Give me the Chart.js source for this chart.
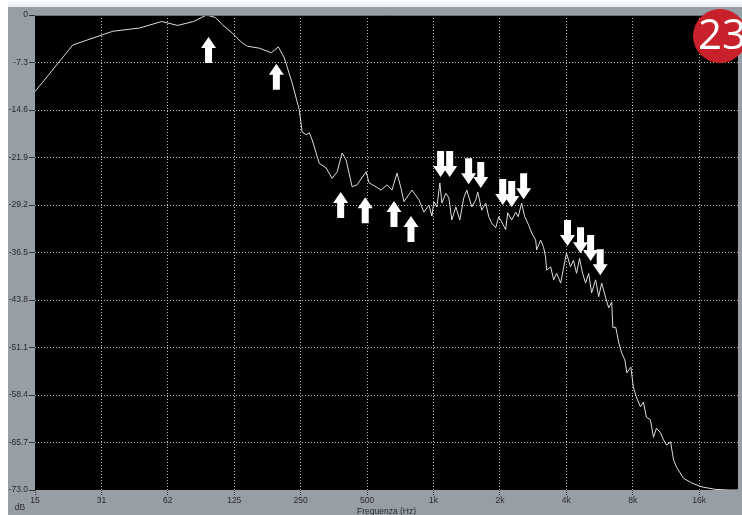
<!DOCTYPE html>
<html>
<head>
<meta charset="utf-8">
<script src="https://cdn.jsdelivr.net/npm/chart.js@4/dist/chart.umd.min.js"></script>
<style>
  html, body { margin: 0; padding: 0; background: #ffffff; }
  #wrap { width: 742px; height: 515px; position: relative; }
</style>
</head>
<body>
<div id="wrap"><canvas id="spectrum" width="742" height="515"></canvas></div>
<script>
// Spectrum trace: frequency (Hz) and level (dB)
const freqHz = [
  15.6, 23.2, 35.2, 46.6, 58.6, 69.2, 81.8, 93.6, 102.8, 110.6,
  122.7, 134.8, 143.4, 162.5, 184, 198, 210.8, 229, 246.4, 254,
  265, 273.5, 282, 303.5, 326, 347, 366, 385.5, 401.8, 427.8,
  450.5, 494.8, 510.5, 549, 578.5, 615.8, 648.6, 683.3, 712.3, 735,
  798.8, 859, 905, 953, 983.6, 1004, 1036, 1068.8, 1091, 1137.8,
  1174, 1211, 1262.5, 1316, 1372, 1416, 1491.5, 1555, 1587.5, 1655,
  1725, 1780, 1837, 1915, 1975, 2038, 2124, 2170, 2262, 2359,
  2422, 2509, 2590, 2701, 2786, 2905, 2935, 3059, 3155, 3222,
  3256, 3397, 3506, 3616, 3772, 3894, 4008, 4177, 4311, 4450,
  4592, 4739, 4891, 5048, 5209, 5432, 5606, 5786, 6034, 6228,
  6427, 6495, 6703, 6918, 7140, 7369, 7524, 7845, 8050, 8307,
  8664, 8942, 9228, 9623, 9931, 10249, 10688, 11030, 11383, 11871,
  12251, 12643, 13595, 14774, 16336, 18899, 21640, 24000
];
const levelDb = [
  -11.8, -4.6, -2.5, -2.0, -1.0, -1.6, -1.0, 0.0, -0.4, -1.5,
  -2.8, -4.2, -4.8, -5.1, -5.8, -4.9, -6.6, -10.5, -14.6, -18.0,
  -18.4, -18.1, -19.2, -22.8, -23.5, -25.1, -24.1, -21.2, -22.3, -26.4,
  -26.1, -24.1, -25.8, -26.4, -26.9, -26.1, -26.9, -24.3, -26.6, -28.7,
  -26.9, -28.4, -30.3, -29.2, -30.9, -28.7, -29.5, -25.8, -28.9, -27.4,
  -28.1, -31.5, -29.5, -31.5, -28.1, -26.9, -29.5, -28.4, -27.2, -30.0,
  -28.9, -31.0, -32.0, -32.7, -31.0, -31.8, -33.0, -30.4, -31.5, -30.3,
  -31.0, -28.9, -31.0, -32.3, -33.5, -34.6, -36.1, -34.6, -35.7, -37.2,
  -39.2, -38.7, -40.7, -39.7, -41.2, -38.7, -36.6, -38.7, -37.7, -39.7,
  -37.4, -39.7, -41.2, -39.7, -42.7, -40.7, -43.3, -41.2, -43.5, -45.0,
  -44.1, -48.0, -48.0, -50.4, -52.0, -53.0, -55.0, -54.1, -57.2, -58.7,
  -60.2, -59.5, -61.8, -62.2, -64.9, -63.5, -64.2, -65.3, -66.1, -65.6,
  -68.4, -69.5, -71.2, -71.9, -72.5, -72.9, -73.0, -73.0
];

// Axis ticks
const freqTickHz = [15.625, 31.25, 62.5, 125, 250, 500, 1000, 2000, 4000, 8000, 16000];
const freqTickLabels = ['15', '31', '62', '125', '250', '500', '1k', '2k', '4k', '8k', '16k'];
const dbTickValues = [0, -7.3, -14.6, -21.9, -29.2, -36.5, -43.8, -51.1, -58.4, -65.7, -73.0];
const dbTickLabels = ['0', '-7.3', '-14.6', '-21.9', '-29.2', '-36.5', '-43.8', '-51.1', '-58.4', '-65.7', '-73.0'];

// Marker arrows, placed by their tip (Hz, dB)
const upArrowHz = [95.6, 194, 379.5, 490.5, 662, 790.5];
const upArrowDb = [-3.4, -7.5, -27.2, -28.0, -28.6, -30.9];
const downArrowHz = [1077, 1184, 1443, 1638, 2060, 2262, 2562, 4050, 4640, 5155, 5698];
const downArrowDb = [-24.9, -24.9, -26.0, -26.6, -29.2, -29.5, -28.3, -35.5, -36.6, -37.8, -40.0];

const badgeText = '23';
const xTitle = 'Frequenza (Hz)';
const yUnit = 'dB';

const FONT = "'Liberation Sans', Arial, sans-serif";
const GRID = 'rgba(210,210,210,0.9)';
const CLEAR = 'rgba(0,0,0,0)';

const panelPlugin = {
  id: 'panel',
  beforeDraw(chart) {
    const { ctx, chartArea: a, width, height } = chart;
    ctx.save();
    ctx.fillStyle = '#ffffff';
    ctx.fillRect(0, 0, width, height);
    // soft shadow above the panel
    const g = ctx.createLinearGradient(0, 0, 0, 8);
    g.addColorStop(0, '#ffffff');
    g.addColorStop(1, '#e4e6e8');
    ctx.fillStyle = g;
    ctx.fillRect(8, 0, width - 8, 8);
    ctx.fillStyle = '#979ea6';
    ctx.fillRect(8, 7, width - 8, height - 7);
    ctx.fillStyle = '#000000';
    ctx.fillRect(a.left, a.top, a.right - a.left, a.bottom - a.top);
    ctx.restore();
  },
  afterDatasetsDraw(chart) {
    const { ctx } = chart;
    const xs = chart.scales.x, ys = chart.scales.y;
    const drawArrow = (tx, ty, dir) => {
      // dir = -1 points up (tip on top), +1 points down (tip at bottom)
      const L = 26, head = 11, hw = 7.5, sw = 3.5;
      const s = -dir;
      ctx.beginPath();
      ctx.moveTo(tx, ty);
      ctx.lineTo(tx + hw, ty + s * head);
      ctx.lineTo(tx + sw, ty + s * head);
      ctx.lineTo(tx + sw, ty + s * L);
      ctx.lineTo(tx - sw, ty + s * L);
      ctx.lineTo(tx - sw, ty + s * head);
      ctx.lineTo(tx - hw, ty + s * head);
      ctx.closePath();
      ctx.fill();
    };
    ctx.save();
    ctx.fillStyle = '#ffffff';
    upArrowHz.forEach((f, i) => drawArrow(xs.getPixelForValue(f), ys.getPixelForValue(upArrowDb[i]), -1));
    downArrowHz.forEach((f, i) => drawArrow(xs.getPixelForValue(f), ys.getPixelForValue(downArrowDb[i]), 1));
    ctx.restore();
  },
  afterDraw(chart) {
    const { ctx, chartArea: a } = chart;
    ctx.save();
    // top edge of the plot
    ctx.strokeStyle = '#6c7075';
    ctx.lineWidth = 1;
    ctx.beginPath();
    ctx.moveTo(a.left, a.top + 0.5);
    ctx.lineTo(a.right, a.top + 0.5);
    ctx.stroke();
    // axis captions
    ctx.fillStyle = '#2a2a2a';
    ctx.font = '8.5px ' + FONT;
    ctx.textAlign = 'center';
    ctx.textBaseline = 'middle';
    ctx.fillText(yUnit, 20, 507.5);
    ctx.fillText(xTitle, (a.left + a.right) / 2, 512);
    // badge
    ctx.fillStyle = '#c8212b';
    ctx.beginPath();
    ctx.arc(720, 36, 27, 0, Math.PI * 2);
    ctx.fill();
    ctx.fillStyle = '#ffffff';
    ctx.font = "42px 'Open Sans', sans-serif";
    ctx.textAlign = 'center';
    ctx.textBaseline = 'middle';
    ctx.fillText(badgeText, 722, 37);
    ctx.restore();
  }
};

new Chart(document.getElementById('spectrum'), {
  type: 'line',
  data: {
    datasets: [{
      data: freqHz.map((f, i) => ({ x: f, y: levelDb[i] })),
      borderColor: '#dcdcdc',
      borderWidth: 1,
      pointRadius: 0,
      tension: 0,
      fill: false
    }]
  },
  options: {
    responsive: false,
    animation: false,
    events: [],
    layout: { padding: { left: 0, right: 4, top: 15, bottom: 0 } },
    plugins: { legend: { display: false }, tooltip: { enabled: false } },
    scales: {
      x: {
        type: 'logarithmic',
        min: 15.625,
        max: 24000,
        afterBuildTicks(scale) { scale.ticks = freqTickHz.map(v => ({ value: v })); },
        afterFit(scale) { scale.height = 25; },
        border: { display: false, dash: [1, 2] },
        grid: {
          color: ctx => ctx.index === 0 ? CLEAR : GRID,
          tickColor: '#333333',
          tickBorderDash: [1, 1],
          tickLength: 5,
          lineWidth: 1
        },
        ticks: {
          autoSkip: false,
          maxRotation: 0,
          padding: 1,
          color: '#2a2a2a',
          font: { family: FONT, size: 8.5 },
          callback: (v, i) => freqTickLabels[i]
        }
      },
      y: {
        type: 'linear',
        min: -73,
        max: 0,
        afterBuildTicks(scale) { scale.ticks = dbTickValues.map(v => ({ value: v })); },
        afterFit(scale) { scale.width = 35; },
        border: { display: false, dash: [1, 2] },
        grid: {
          color: ctx => (ctx.index === 0 || ctx.index === dbTickValues.length - 1) ? CLEAR : GRID,
          tickColor: '#333333',
          tickBorderDash: [],
          tickLength: 6,
          lineWidth: 1
        },
        ticks: {
          autoSkip: false,
          padding: 1,
          color: '#2a2a2a',
          font: { family: FONT, size: 8.5 },
          callback: (v, i) => dbTickLabels[i]
        }
      }
    }
  },
  plugins: [panelPlugin]
});
</script>
</body>
</html>
